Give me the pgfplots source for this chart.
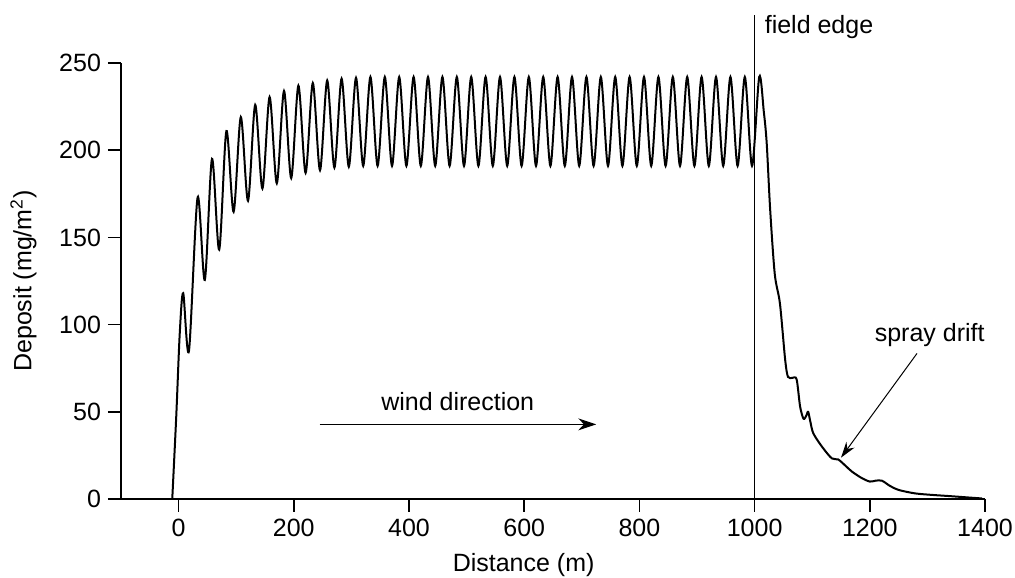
\documentclass[border=0pt]{standalone}
\usepackage{fontspec}
\setmainfont{Liberation Sans}
\usepackage{pgfplots}
\pgfplotsset{compat=1.18}
\usetikzlibrary{arrows.meta}
\newcommand\lblfont{\fontsize{12.5}{15}\selectfont}
\begin{document}
\begin{tikzpicture}
\begin{axis}[
  scale only axis, width=432pt, height=218pt,
  xmin=-100, xmax=1400, ymin=0, ymax=250,
  axis lines=left, axis line style={-, line width=0.75pt},
  xtick={0,200,...,1400}, ytick={0,50,...,250},
  tick align=outside, major tick length=6.5pt,
  tick style={black, line width=0.75pt},
  /pgf/number format/assume math mode=true,
  /pgf/number format/set thousands separator={},
  tick label style={font=\lblfont},
  label style={font=\lblfont},
  xlabel={Distance (m)},
  ylabel={Deposit (mg/m\textsuperscript{2})},
  xlabel style={at={(axis description cs:0.466,-0.1674)}, anchor=base, inner sep=0pt},
  ylabel style={at={(axis description cs:-0.0972,0.5)}, anchor=south, inner sep=0pt},
  clip=false,
]
% deposit profile across the field and downwind
\addplot[black, line width=1pt, smooth, tension=0.5] coordinates {
  (-11,0) (-4,48) (2,95) (8,118) (18,85)
  (33,173) (45.5,125.6) (58,195) (70.5,143) (83,211) (95.5,164.7)
  (108,219) (120.5,171) (133,226) (145.5,178) (158,230.5) (170.5,181)
  (183,234) (195.5,184) (208,237) (220.5,187) (233,238.5) (245.5,188.5)
  (258,240) (270.5,190) (283,241) (295.5,190.5) (308,241.5) (320.5,191)
  (333,242) (345.5,191) (358,242) (370.5,191) (383,242) (395.5,191)
  (408,242) (420.5,191) (433,242) (445.5,191) (458,242) (470.5,191)
  (483,242) (495.5,191) (508,242) (520.5,191) (533,242) (545.5,191)
  (558,242) (570.5,191) (583,242) (595.5,191) (608,242) (620.5,191)
  (633,242) (645.5,191) (658,242) (670.5,191) (683,242) (695.5,191)
  (708,242) (720.5,191) (733,242) (745.5,191) (758,242) (770.5,191)
  (783,242) (795.5,191) (808,242) (820.5,191) (833,242) (845.5,191)
  (858,242) (870.5,191) (883,242) (895.5,191) (908,242) (920.5,191)
  (933,242) (945.5,191) (958,242) (970.5,191) (983,242) (995.5,191)
  (1008,242) (1016,222) (1021,204) (1027,166) (1035,129) (1044,112)
  (1053,80) (1058,70) (1066,69.5) (1073,68.5) (1079,53) (1085,46)
  (1090,48) (1093,50) (1097,44) (1102,37.6) (1117,30) (1134,23.3)
  (1145,22.7) (1158,19) (1169,15.7) (1186,12) (1200,10) (1210,10.5)
  (1221,10.5) (1235,7.5) (1250,5.2) (1279,3.2) (1310,2.3) (1337,1.7)
  (1370,0.9) (1395,0.3)
};
\draw[line width=0.75pt] (axis cs:1000,0) -- (axis cs:1000,277.5);
\node[anchor=west, inner sep=0pt, font=\lblfont] at (axis cs:1017,270.6) {field edge};
\draw[line width=0.6pt, -{Stealth[length=9pt,width=6pt]}] (axis cs:245,42.8) -- (axis cs:725,42.8);
\node[font=\lblfont] at (axis cs:484.6,55.8) {wind direction};
\draw[line width=0.5pt, -{Stealth[length=8pt,width=5pt]}] (axis cs:1282,83.5) -- (axis cs:1150,23.7);
\node[font=\lblfont] at (axis cs:1304,94) {spray drift};
\end{axis}
\pgfresetboundingbox
\path[use as bounding box] ([shift={(-60.5pt,-39pt)}]current axis.south west) rectangle ([shift={(15pt,31.5pt)}]current axis.north east);
\end{tikzpicture}
\end{document}
